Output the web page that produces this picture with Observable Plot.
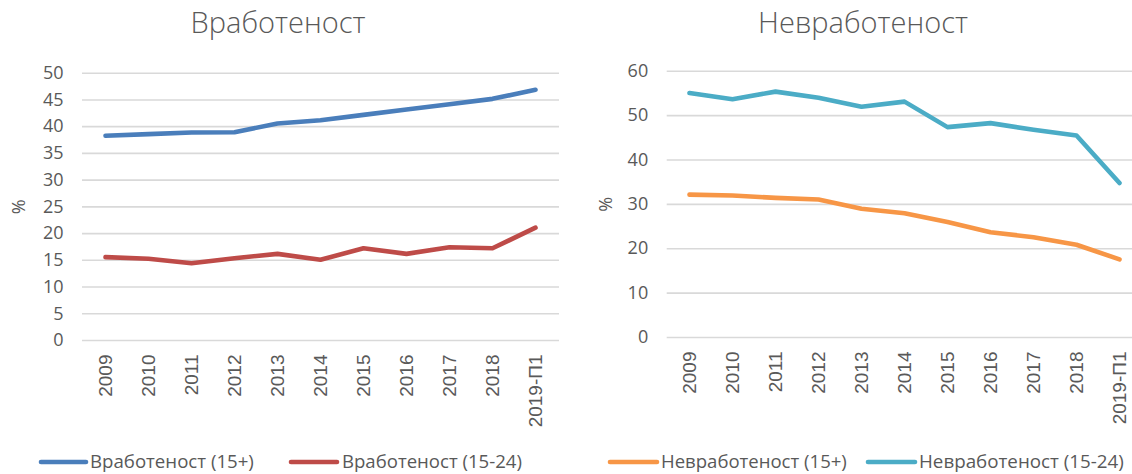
<!DOCTYPE html>
<html>
<head>
<meta charset="utf-8">
<script src="https://cdn.jsdelivr.net/npm/d3@7"></script>
<script src="https://cdn.jsdelivr.net/npm/@observablehq/plot@0.6"></script>
<style>
  html, body { margin: 0; padding: 0; background: #fff; }
  #root { position: relative; width: 1132px; height: 474px; overflow: hidden; font-family: "Open Sans", sans-serif; color: #595959; }
  .title { position: absolute; top: 3px; font-family: "Open Sans", sans-serif; font-size: 29px; font-weight: 300; color: #595959; text-align: center; line-height: 38px; white-space: nowrap; }
  .panel { position: absolute; top: 50px; }
  .panel svg { display: block; overflow: hidden; }
  #legend { position: absolute; left: 0; top: 440px; }
</style>
</head>
<body>
<div id="root">
  <div class="title" id="t1" style="left:78px;width:400px;"></div>
  <div class="title" id="t2" style="left:663px;width:400px;"></div>
  <div class="panel" id="p1" style="left:0px;"></div>
  <div class="panel" id="p2" style="left:566px;"></div>
  <svg id="legend" width="1132" height="34"></svg>
</div>
<script>
// ---- data ----
const categories = ["2009","2010","2011","2012","2013","2014","2015","2016","2017","2018","2019-П1"];

const titleEmp = "Вработеност";
const titleUnemp = "Невработеност";

const seriesEmp = ["Вработеност (15+)", "Вработеност (15-24)"];
const seriesUnemp = ["Невработеност (15+)", "Невработеност (15-24)"];

const empTotal   = [38.3, 38.6, 38.9, 38.95, 40.6, 41.2, 42.2, 43.2, 44.2, 45.2, 46.9];
const empYouth   = [15.6, 15.3, 14.45, 15.4, 16.2, 15.1, 17.25, 16.2, 17.45, 17.25, 21.1];
const unempTotal = [32.2, 32.0, 31.45, 31.1, 29.0, 28.0, 26.0, 23.7, 22.6, 20.9, 17.6];
const unempYouth = [55.1, 53.7, 55.4, 54.0, 52.0, 53.15, 47.4, 48.3, 46.8, 45.5, 34.8];

const empTicks = [0, 5, 10, 15, 20, 25, 30, 35, 40, 45, 50];
const unempTicks = [0, 10, 20, 30, 40, 50, 60];
const yLabel = "%";

const colorsEmp = ["#4A7EBB", "#BE4B48"];
const colorsUnemp = ["#F79646", "#4BACC6"];

// ---- build tidy tables ----
function tidy(names, arrays) {
  return names.flatMap((name, s) => categories.map((c, i) => ({ cat: c, value: arrays[s][i], series: name })));
}
const empData = tidy(seriesEmp, [empTotal, empYouth]);
const unempData = tidy(seriesUnemp, [unempTotal, unempYouth]);

document.getElementById("t1").textContent = titleEmp;
document.getElementById("t2").textContent = titleUnemp;

function makeChart(data, names, colors, ticks, domain, layout) {
  return Plot.plot({
    width: 566,
    height: 390,
    marginLeft: layout.marginLeft,
    marginRight: layout.marginRight,
    marginTop: layout.marginTop,
    marginBottom: layout.marginBottom,
    style: { fontFamily: "Open Sans, sans-serif", color: "#595959", background: "#fff", overflow: "hidden" },
    x: { type: "point", domain: categories, range: layout.xRange, padding: 0 },
    y: { domain, range: layout.yRange },
    color: { domain: names, range: colors },
    marks: [
      Plot.gridY(ticks, { stroke: "#d9d9d9", strokeOpacity: 1, strokeWidth: 1.6 }),
      Plot.axisY(ticks, {
        tickSize: 0, tickPadding: 19, fontSize: 18, fill: "#595959",
        label: yLabel, labelAnchor: "center", labelArrow: "none", labelOffset: layout.labelOffset
      }),
      Plot.axisX({
        tickSize: 0, tickPadding: 14, tickRotate: -90, fontSize: 19,
        fontFamily: "Liberation Sans, Arial, sans-serif", fill: "#595959", label: null
      }),
      Plot.lineY(data, {
        x: "cat", y: "value", z: "series", stroke: "series",
        strokeWidth: 4.6, strokeLinecap: "round", strokeLinejoin: "round"
      })
    ]
  });
}

document.getElementById("p1").appendChild(makeChart(empData, seriesEmp, colorsEmp, empTicks, [0, 50], {
  marginLeft: 82, marginRight: 7, marginTop: 22.7, marginBottom: 100,
  xRange: [103.5, 535.5], yRange: [290, 22.7], labelOffset: 70
}));
document.getElementById("p2").appendChild(makeChart(unempData, seriesUnemp, colorsUnemp, unempTicks, [0, 60], {
  marginLeft: 100.7, marginRight: 0, marginTop: 20.7, marginBottom: 103,
  xRange: [122.3, 553.3], yRange: [287, 20.7], labelOffset: 68
}));

// ---- legend ----
const legendItems = [
  { label: seriesEmp[0], color: colorsEmp[0], x1: 41, x2: 86, tx: 90, tw: 164 },
  { label: seriesEmp[1], color: colorsEmp[1], x1: 291, x2: 337, tx: 342, tw: 180 },
  { label: seriesUnemp[0], color: colorsUnemp[0], x1: 610, x2: 657, tx: 661, tw: 186 },
  { label: seriesUnemp[1], color: colorsUnemp[1], x1: 868, x2: 915, tx: 919, tw: 205 }
];
const leg = d3.select("#legend");
const g = leg.selectAll("g").data(legendItems).join("g");
g.append("line")
  .attr("x1", d => d.x1).attr("x2", d => d.x2).attr("y1", 22).attr("y2", 22)
  .attr("stroke", d => d.color).attr("stroke-width", 4.6).attr("stroke-linecap", "round");
g.each(function(d) {
  const t = d3.select(this).append("text")
    .attr("font-family", "Open Sans, sans-serif").attr("font-size", 19).attr("fill", "#595959")
    .text(d.label);
  const w = t.node().getComputedTextLength();
  t.attr("transform", `translate(${d.tx},28) scale(${d.tw / w},1)`);
});
</script>
</body>
</html>
